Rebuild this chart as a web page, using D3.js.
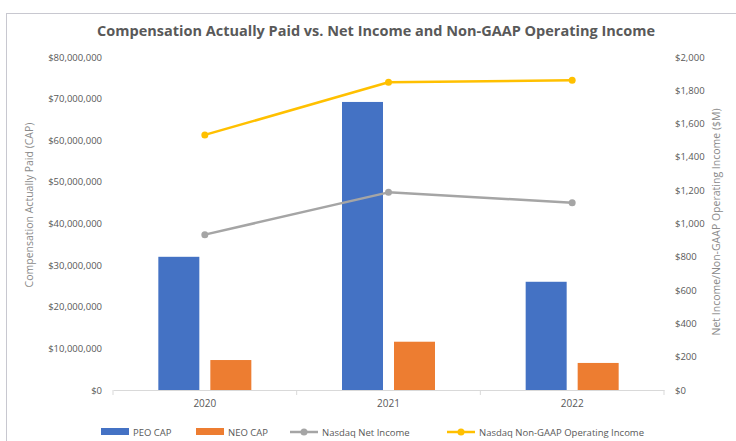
<!DOCTYPE html>
<html>
<head>
<meta charset="utf-8">
<script src="https://cdn.jsdelivr.net/npm/d3@7"></script>
<style>
  html, body { margin: 0; padding: 0; background: #fff; }
  svg { display: block; font-family: "Open Sans", "Liberation Sans", sans-serif; }
</style>
</head>
<body>
<svg id="chart" width="736" height="441"></svg>
<script>
// Fiscal years on the category axis
const years = ["2020", "2021", "2022"];
// Compensation actually paid (USD)
const peoCap = [32000000, 69200000, 26000000];
const neoCap = [7200000, 11600000, 6500000];
// Nasdaq results ($M)
const netIncome = [933, 1187, 1125];
const nonGaapOpIncome = [1532, 1848, 1860];
// Axis ticks
const leftTicks = [0, 10e6, 20e6, 30e6, 40e6, 50e6, 60e6, 70e6, 80e6];
const rightTicks = [0, 200, 400, 600, 800, 1000, 1200, 1400, 1600, 1800, 2000];

const colors = { peo: "#4472C4", neo: "#ED7D31", net: "#A5A5A5", op: "#FFC000" };
const textColor = "#595959";

const svg = d3.select("#chart");
const plot = { left: 113, right: 664, top: 57, bottom: 390 };

// Chart frame
svg.append("rect")
  .attr("x", 6.5).attr("y", 13.5).attr("width", 740).attr("height", 440)
  .attr("fill", "#fff").attr("stroke", "#c8c8d0").attr("stroke-width", 1);

// Title
svg.append("text")
  .attr("x", 376).attr("y", 36)
  .attr("text-anchor", "middle")
  .attr("font-size", 14.5).attr("font-weight", 700)
  .attr("fill", textColor)
  .attr("textLength", 558).attr("lengthAdjust", "spacingAndGlyphs")
  .text("Compensation Actually Paid vs. Net Income and Non-GAAP Operating Income");

const x = d3.scaleBand().domain(years).range([plot.left, plot.right]);
const yL = d3.scaleLinear().domain([0, 80e6]).range([plot.bottom, plot.top]);
const yR = d3.scaleLinear().domain([0, 2000]).range([plot.bottom, plot.top]);

const barW = 41, barGap = 11;

// Left axis labels
const fmtL = v => "$" + d3.format(",")(v);
const leftAxis = svg.append("g").attr("transform", `translate(${plot.left},0)`)
  .call(d3.axisLeft(yL).tickValues(leftTicks).tickFormat(fmtL).tickSize(0).tickPadding(11));
leftAxis.select(".domain").remove();
leftAxis.selectAll("text").attr("font-size", 9.5).attr("fill", textColor)
  .attr("font-family", "'Open Sans', sans-serif");

// Right axis labels
const fmtR = v => "$" + d3.format(",")(v);
const rightAxis = svg.append("g").attr("transform", `translate(${plot.right},0)`)
  .call(d3.axisRight(yR).tickValues(rightTicks).tickFormat(fmtR).tickSize(0).tickPadding(11));
rightAxis.select(".domain").remove();
rightAxis.selectAll("text").attr("font-size", 9.5).attr("fill", textColor)
  .attr("font-family", "'Open Sans', sans-serif");

// Axis titles
svg.append("text")
  .attr("transform", "translate(33,205) rotate(-90)")
  .attr("text-anchor", "middle").attr("font-size", 10.5).attr("fill", "#8a8a8a")
  .text("Compensation Actually Paid (CAP)");
svg.append("text")
  .attr("transform", "translate(720,222) rotate(-90)")
  .attr("text-anchor", "middle").attr("font-size", 10.5).attr("fill", "#8a8a8a")
  .text("Net Income/Non-GAAP Operating Income ($M)");

// Bars
const groups = svg.append("g");
groups.selectAll("rect.peo").data(years).join("rect")
  .attr("class", "peo")
  .attr("x", d => x(d) + x.bandwidth() / 2 - barGap / 2 - barW)
  .attr("width", barW)
  .attr("y", (d, i) => yL(peoCap[i]))
  .attr("height", (d, i) => plot.bottom - yL(peoCap[i]))
  .attr("fill", colors.peo);
groups.selectAll("rect.neo").data(years).join("rect")
  .attr("class", "neo")
  .attr("x", d => x(d) + x.bandwidth() / 2 + barGap / 2)
  .attr("width", barW)
  .attr("y", (d, i) => yL(neoCap[i]))
  .attr("height", (d, i) => plot.bottom - yL(neoCap[i]))
  .attr("fill", colors.neo);

// Category axis
const xAxis = svg.append("g").attr("transform", `translate(0,${plot.bottom})`)
  .call(d3.axisBottom(x).tickSize(0).tickPadding(10));
xAxis.select(".domain").attr("stroke", "#d9d9d9");
xAxis.selectAll("text").attr("font-size", 10).attr("fill", textColor)
  .attr("font-family", "'Open Sans', sans-serif");
// Band boundary tick marks
svg.append("g").selectAll("line").data(years.concat(["end"])).join("line")
  .attr("x1", (d, i) => plot.left + i * x.bandwidth())
  .attr("x2", (d, i) => plot.left + i * x.bandwidth())
  .attr("y1", plot.bottom).attr("y2", plot.bottom + 5)
  .attr("stroke", "#d9d9d9");

// Lines
const cx = d => x(d) + x.bandwidth() / 2;
function drawLine(values, color) {
  const line = d3.line().x((d, i) => cx(years[i])).y(d => yR(d));
  svg.append("path").datum(values)
    .attr("d", line).attr("fill", "none")
    .attr("stroke", color).attr("stroke-width", 2.5).attr("stroke-linejoin", "round");
  svg.append("g").selectAll("circle").data(values).join("circle")
    .attr("cx", (d, i) => cx(years[i])).attr("cy", d => yR(d))
    .attr("r", 3.5).attr("fill", color);
}
drawLine(netIncome, colors.net);
drawLine(nonGaapOpIncome, colors.op);

// Legend
const legend = svg.append("g").attr("font-size", 9.5).attr("fill", textColor);
const ly = 432;
const items = [
  { label: "PEO CAP", color: colors.peo, type: "rect", x: 101 },
  { label: "NEO CAP", color: colors.neo, type: "rect", x: 196 },
  { label: "Nasdaq Net Income", color: colors.net, type: "line", x: 290 },
  { label: "Nasdaq Non-GAAP Operating Income", color: colors.op, type: "line", x: 447 }
];
items.forEach(it => {
  if (it.type === "rect") {
    legend.append("rect").attr("x", it.x).attr("y", ly - 4).attr("width", 28).attr("height", 7)
      .attr("fill", it.color);
  } else {
    legend.append("line").attr("x1", it.x).attr("x2", it.x + 28).attr("y1", ly).attr("y2", ly)
      .attr("stroke", it.color).attr("stroke-width", 2.5);
    legend.append("circle").attr("cx", it.x + 14).attr("cy", ly).attr("r", 3.5).attr("fill", it.color);
  }
  legend.append("text").attr("x", it.x + 32).attr("y", ly + 3.5).attr("fill", textColor)
    .text(it.label);
});
</script>
</body>
</html>
